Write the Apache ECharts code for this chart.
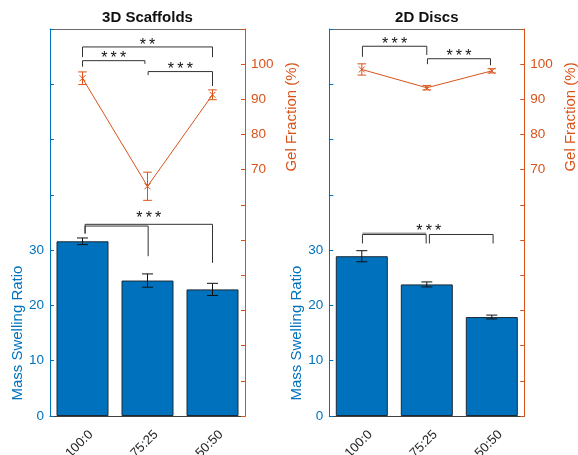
<!DOCTYPE html>
<html>
<head>
<meta charset="utf-8">
<script src="https://cdn.jsdelivr.net/npm/echarts@6/dist/echarts.min.js"></script>
<style>
  html, body { margin: 0; padding: 0; background: #fff; }
  #chart { width: 578px; height: 455px; }
</style>
</head>
<body>
<div id="chart"></div>
<script>
// ---- data ----
const categories = ['100:0', '75:25', '50:50'];
const panelTitles = ['3D Scaffolds', '2D Discs'];

const scaffoldSwelling = [31.6, 24.5, 22.9];
const scaffoldSwellingErr = [0.6, 1.2, 1.1];
const scaffoldGel = [96.0, 65.3, 91.3];
const scaffoldGelErr = [1.8, 4.0, 1.4];

const discSwelling = [28.9, 23.8, 17.9];
const discSwellingErr = [1.0, 0.45, 0.35];
const discGel = [98.5, 93.3, 98.1];
const discGelErr = [1.6, 0.6, 0.6];

const swellingTickLabels = [0, 10, 20, 30];
const gelTickLabels = [70, 80, 90, 100];

// significance brackets (x in category index units, heights in the axis units)
const STARS3 = '*\u2009*\u2009*';
const STARS2 = '*\u2009*';
const scaffoldGelBrackets = [
  { from: 0, to: 2, level: 104.9, leftEnd: 102.0, rightEnd: 102.0, stars: STARS2, gap: 5.3 },
  { from: 0, to: 0.96, level: 101.0, leftEnd: 99.3, rightEnd: 100.1, stars: STARS3, gap: 6.0 },
  { from: 1.01, to: 2, level: 97.9, leftEnd: 96.9, rightEnd: 93.8, stars: STARS3, gap: 5.0 }
];
const scaffoldSwellingBrackets = [
  { from: 0.04, to: 2, level: 34.67, leftEnd: 33.0, rightEnd: 27.7, stars: STARS3, gap: 9.3 },
  { from: 0.04, to: 1.01, level: 34.36, leftEnd: 33.0, rightEnd: 28.9, stars: '' }
];
const discGelBrackets = [
  { from: 0.01, to: 1.0, level: 105.1, leftEnd: 102.1, rightEnd: 102.6, stars: STARS3, gap: 5.6 },
  { from: 1.01, to: 1.98, level: 101.55, leftEnd: 100.0, rightEnd: 99.7, stars: STARS3, gap: 5.4 }
];
const discSwellingBrackets = [
  { from: 0.01, to: 0.99, level: 33.05, leftEnd: 33.05, rightEnd: 33.05, stars: '', color: '#a0a0a0', width: 1.5 },
  { from: 0.01, to: 0.99, level: 32.83, leftEnd: 31.2, rightEnd: 31.2, stars: '' },
  { from: 1.04, to: 2.02, level: 32.83, leftEnd: 31.2, rightEnd: 31.2, stars: STARS3, starsAt: 1.03, gap: 6.8 }
];

// ---- style ----
const FONT = 'Liberation Sans, Arial, Helvetica, sans-serif';
const BLUE = '#0072BD';
const ORANGE = '#D95319';
const AXIS_GREY = '#404040';
const GRID_TOP = 29, GRID_H = 387, GRID_W = 195;
const GRID_LEFTS = [50, 329.3];

const panels = [
  { swelling: scaffoldSwelling, swellingErr: scaffoldSwellingErr, gel: scaffoldGel, gelErr: scaffoldGelErr,
    gelBrackets: scaffoldGelBrackets, swellingBrackets: scaffoldSwellingBrackets },
  { swelling: discSwelling, swellingErr: discSwellingErr, gel: discGel, gelErr: discGelErr,
    gelBrackets: discGelBrackets, swellingBrackets: discSwellingBrackets }
];

function errorBarRenderer(color, capHalf, markHalf) {
  return function (params, api) {
    const x = api.value(0), v = api.value(1), e = api.value(2);
    const hi = api.coord([x, v + e]);
    const lo = api.coord([x, v - e]);
    const c = api.coord([x, v]);
    const style = { stroke: color, lineWidth: 1 };
    const kids = [
      { type: 'line', shape: { x1: hi[0], y1: hi[1], x2: lo[0], y2: lo[1] }, style },
      { type: 'line', shape: { x1: hi[0] - capHalf, y1: hi[1], x2: hi[0] + capHalf, y2: hi[1] }, style },
      { type: 'line', shape: { x1: lo[0] - capHalf, y1: lo[1], x2: lo[0] + capHalf, y2: lo[1] }, style }
    ];
    if (markHalf) {
      kids.push(
        { type: 'line', shape: { x1: c[0] - markHalf, y1: c[1] - markHalf, x2: c[0] + markHalf, y2: c[1] + markHalf }, style },
        { type: 'line', shape: { x1: c[0] - markHalf, y1: c[1] + markHalf, x2: c[0] + markHalf, y2: c[1] - markHalf }, style }
      );
    }
    return { type: 'group', children: kids };
  };
}

function bracketRenderer(list) {
  return function (params, api) {
    const b = list[params.dataIndex];
    const pL = api.coord([b.from, b.level]);
    const pR = api.coord([b.to, b.level]);
    const eL = api.coord([b.from, b.leftEnd]);
    const eR = api.coord([b.to, b.rightEnd]);
    const kids = [{
      type: 'polyline',
      shape: { points: [eL, pL, pR, eR] },
      style: { stroke: b.color || '#333333', lineWidth: b.width || 1, fill: null }
    }];
    if (b.stars) {
      const at = b.starsAt != null ? b.starsAt : (b.from + b.to) / 2;
      const t = api.coord([at, b.level]);
      kids.push({
        type: 'text', x: t[0], y: t[1] - b.gap + 3.5,
        style: { text: b.stars, fill: '#111111', font: '16px ' + FONT, align: 'center', verticalAlign: 'middle' }
      });
    }
    return { type: 'group', children: kids };
  };
}

const grid = [], xAxis = [], yAxis = [], series = [];

panels.forEach(function (p, k) {
  grid.push({ left: GRID_LEFTS[k], top: GRID_TOP, width: GRID_W, height: GRID_H,
              containLabel: false, outerBoundsMode: 'none' });

  // bottom category axis
  xAxis.push({
    type: 'category', gridIndex: k, position: 'bottom', data: categories,
    axisLine: { onZero: false, lineStyle: { color: AXIS_GREY, width: 1 } },
    axisTick: { inside: true, alignWithLabel: true, length: 4, lineStyle: { color: AXIS_GREY } },
    axisLabel: { rotate: 45, fontSize: 13, lineHeight: 24, color: '#262626', fontFamily: FONT, margin: 8,
                 align: 'right', verticalAlign: 'top' },
    splitLine: { show: false }
  });
  // top box edge
  xAxis.push({
    type: 'category', gridIndex: k, position: 'top', data: categories,
    axisLine: { onZero: false, lineStyle: { color: '#6a6a6a', width: 1 } },
    axisTick: { inside: true, alignWithLabel: true, length: 4, lineStyle: { color: '#6a6a6a' } },
    axisLabel: { show: false },
    splitLine: { show: false }
  });
  // numeric position axis for overlays
  xAxis.push({ type: 'value', gridIndex: k, min: -0.5, max: 2.5, show: false,
               axisLine: { onZero: false } });

  yAxis.push({
    type: 'value', gridIndex: k, position: 'left', min: 0, max: 70, interval: 10,
    axisLine: { show: true, onZero: false, lineStyle: { color: BLUE, width: 1 } },
    axisTick: { show: true, inside: true, length: 4, lineStyle: { color: BLUE } },
    axisLabel: {
      color: BLUE, fontSize: 13.5, fontFamily: FONT, margin: 6,
      formatter: function (v) { return swellingTickLabels.indexOf(v) >= 0 ? String(v) : ''; }
    },
    splitLine: { show: false }
  });
  yAxis.push({
    type: 'value', gridIndex: k, position: 'right', min: 0, max: 110, interval: 10,
    axisLine: { show: true, onZero: false, lineStyle: { color: ORANGE, width: 1 } },
    axisTick: { show: true, inside: true, length: 4, lineStyle: { color: ORANGE } },
    axisLabel: {
      color: ORANGE, fontSize: 13.5, fontFamily: FONT, margin: 6,
      formatter: function (v) { return gelTickLabels.indexOf(v) >= 0 ? String(v) : ''; }
    },
    splitLine: { show: false }
  });

  const xb = 3 * k, xv = 3 * k + 2, yl = 2 * k, yr = 2 * k + 1;

  series.push({
    type: 'bar', xAxisIndex: xb, yAxisIndex: yl, data: p.swelling, barWidth: '80%',
    itemStyle: { color: BLUE, borderColor: '#1c2a36', borderWidth: 1 }, silent: true, z: 2
  });
  series.push({
    type: 'custom', xAxisIndex: xv, yAxisIndex: yl, z: 5, silent: true,
    data: p.swelling.map(function (v, i) { return [i, v, p.swellingErr[i]]; }),
    renderItem: errorBarRenderer('#111111', 5.5, 0)
  });
  series.push({
    type: 'line', xAxisIndex: xv, yAxisIndex: yr, showSymbol: false, silent: true, z: 4,
    data: p.gel.map(function (v, i) { return [i, v]; }),
    lineStyle: { color: ORANGE, width: 1 }
  });
  series.push({
    type: 'custom', xAxisIndex: xv, yAxisIndex: yr, z: 5, silent: true,
    data: p.gel.map(function (v, i) { return [i, v, p.gelErr[i]]; }),
    renderItem: errorBarRenderer(ORANGE, 4.3, 3)
  });
  series.push({
    type: 'custom', xAxisIndex: xv, yAxisIndex: yr, z: 6, silent: true, clip: false,
    data: p.gelBrackets.map(function (b) { return [b.from, b.level]; }),
    renderItem: bracketRenderer(p.gelBrackets)
  });
  series.push({
    type: 'custom', xAxisIndex: xv, yAxisIndex: yl, z: 6, silent: true, clip: false,
    data: p.swellingBrackets.map(function (b) { return [b.from, b.level]; }),
    renderItem: bracketRenderer(p.swellingBrackets)
  });
});

const chart = echarts.init(document.getElementById('chart'), null, { renderer: 'canvas' });
chart.setOption({ animation: false, grid: grid, xAxis: xAxis, yAxis: yAxis, series: series });

// titles and axis names, centred on the labelled part of each axis
const graphic = [];
panels.forEach(function (p, k) {
  const left = GRID_LEFTS[k], right = left + GRID_W;
  const ySwell = chart.convertToPixel({ yAxisIndex: 2 * k }, (swellingTickLabels[0] + swellingTickLabels[swellingTickLabels.length - 1]) / 2);
  const yGel = chart.convertToPixel({ yAxisIndex: 2 * k + 1 }, (gelTickLabels[0] + gelTickLabels[gelTickLabels.length - 1]) / 2);
  graphic.push({
    type: 'text', x: left + GRID_W / 2, y: GRID_TOP - 11,
    style: { text: panelTitles[k], font: 'bold 15px ' + FONT, fill: '#111111', align: 'center', verticalAlign: 'middle' }
  });
  graphic.push({
    type: 'text', x: left - 32.5, y: ySwell, rotation: Math.PI / 2,
    style: { text: 'Mass Swelling Ratio', font: '15px ' + FONT, fill: BLUE, align: 'center', verticalAlign: 'middle' }
  });
  graphic.push({
    type: 'text', x: right + 47, y: yGel, rotation: Math.PI / 2,
    style: { text: 'Gel Fraction (%)', font: '15px ' + FONT, fill: ORANGE, align: 'center', verticalAlign: 'middle' }
  });
});
chart.setOption({ graphic: graphic });
</script>
</body>
</html>
